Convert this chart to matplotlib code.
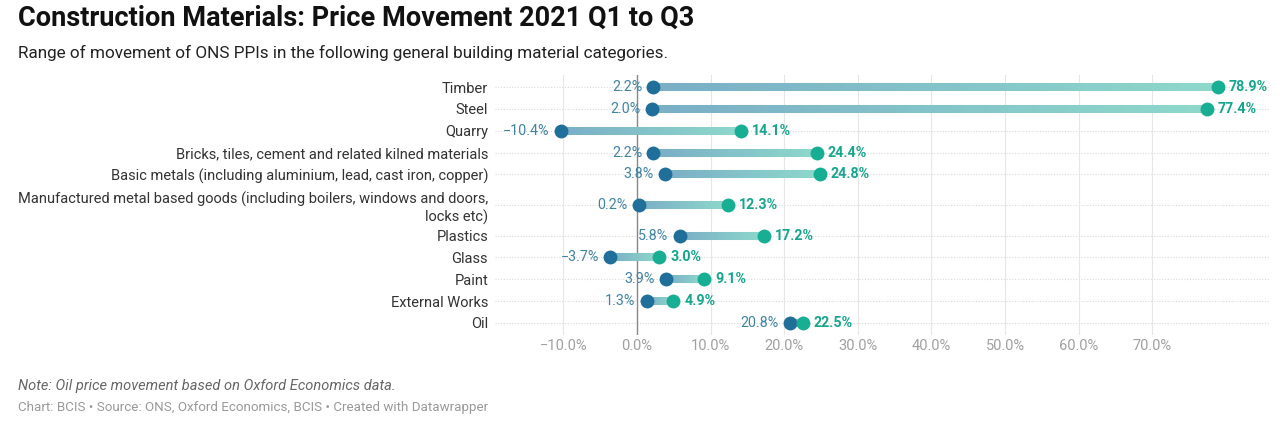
# -*- coding: utf-8 -*-
import numpy as np
import matplotlib
matplotlib.use('Agg')
import matplotlib.pyplot as plt
from matplotlib.collections import LineCollection
from matplotlib.colors import to_rgba

plt.rcParams['font.family'] = ['Roboto', 'DejaVu Sans']

# データ
categories = [
    'Timber',
    'Steel',
    'Quarry',
    'Bricks, tiles, cement and related kilned materials',
    'Basic metals (including aluminium, lead, cast iron, copper)',
    'Manufactured metal based goods (including boilers, windows and doors,\nlocks etc)',
    'Plastics',
    'Glass',
    'Paint',
    'External Works',
    'Oil',
]
q1_values = [2.2, 2.0, -10.4, 2.2, 3.8, 0.2, 5.8, -3.7, 3.9, 1.3, 20.8]
q3_values = [78.9, 77.4, 14.1, 24.4, 24.8, 12.3, 17.2, 3.0, 9.1, 4.9, 22.5]
x_ticks = [-10, 0, 10, 20, 30, 40, 50, 60, 70]

# 色指定
c_start = '#1f6f9a'
c_end = '#17ae94'
c_bar_start = '#7aaec6'
c_bar_end = '#8dd8cb'
c_start_txt = '#3f83a3'
c_end_txt = '#16a58d'


def fmt(v):
    return f'{v:.1f}%'.replace('-', '\u2212')


# 行の位置 (2行ラベルは間隔を広く)
y_pos = []
y = 0.0
for i, cat in enumerate(categories):
    n = cat.count('\n') + 1
    if i > 0:
        prev = categories[i - 1].count('\n') + 1
        y += 1 + 0.4 * (n - 1) + 0.4 * (prev - 1)
    y_pos.append(y)

# グラフオブジェクト、軸作成
fig = plt.figure(figsize=(12.8, 4.37), dpi=100)
ax = fig.add_axes([495 / 1280, 1 - 335 / 437, 775 / 1280, 260 / 437])

# グリッド
for yp in y_pos:
    ax.axhline(yp, color='#d9d9d9', lw=0.8, ls=(0, (1, 1.5)), zorder=0)
for t in x_ticks:
    ax.axvline(t, color='#e6e6e6', lw=0.8, zorder=0)
ax.axvline(0, color='#888888', lw=1.0, zorder=1)

# データ描画
cs, ce = np.array(to_rgba(c_bar_start)), np.array(to_rgba(c_bar_end))
for yp, a, b in zip(y_pos, q1_values, q3_values):
    xs = np.linspace(a, b, 60)
    segs = [[(xs[k], yp), (xs[k + 1], yp)] for k in range(len(xs) - 1)]
    fr = np.linspace(0, 1, len(segs))[:, None]
    cols = cs * (1 - fr) + ce * fr
    lc = LineCollection(segs, colors=cols, linewidths=5.8, capstyle='butt', zorder=2)
    ax.add_collection(lc)

ax.scatter(q1_values, y_pos, s=100, color=c_start, zorder=4, linewidths=0)
ax.scatter(q3_values, y_pos, s=100, color=c_end, zorder=4, linewidths=0)

# 数値ラベル
for yp, a, b in zip(y_pos, q1_values, q3_values):
    lo, hi = min(a, b), max(a, b)
    ax.annotate(fmt(a), (lo, yp), xytext=(-8, 0), textcoords='offset points',
                ha='right', va='center', fontsize=10.3, color=c_start_txt, zorder=5)
    ax.annotate(fmt(b), (hi, yp), xytext=(8, 0), textcoords='offset points',
                ha='left', va='center', fontsize=10.3, fontweight='bold',
                color=c_end_txt, zorder=5)

# 軸
ax.set_xlim(-19.3, 86)
ax.set_ylim(11.35, -0.55)
ax.set_xticks(x_ticks)
ax.set_xticklabels([fmt(t) for t in x_ticks], fontsize=10.5, color='#a0a0a0')
ax.set_yticks(y_pos)
ax.set_yticklabels(categories, fontsize=10.5, color='#333333', linespacing=1.25)
ax.tick_params(axis='both', length=0)
ax.tick_params(axis='x', pad=3)
ax.tick_params(axis='y', pad=5)
for s in ax.spines.values():
    s.set_visible(False)

# タイトル
fig.text(18 / 1280, 1 - 5 / 437, 'Construction Materials: Price Movement 2021 Q1 to Q3',
         fontsize=19.5, fontweight='bold', color='#111111', va='top', ha='left')
fig.text(18 / 1280, 1 - 45 / 437,
         'Range of movement of ONS PPIs in the following general building material categories.',
         fontsize=12.3, color='#222222', va='top', ha='left')

# 注記
fig.text(18 / 1280, 1 - 386 / 437, 'Note: Oil price movement based on Oxford Economics data.',
         fontsize=10.5, style='italic', color='#666666', va='center', ha='left')
fig.text(18 / 1280, 1 - 408 / 437,
         'Chart: BCIS \u2022 Source: ONS, Oxford Economics, BCIS \u2022 Created with Datawrapper',
         fontsize=9.6, color='#999999', va='center', ha='left')

fig.savefig('out.png', dpi=100, facecolor='white')
